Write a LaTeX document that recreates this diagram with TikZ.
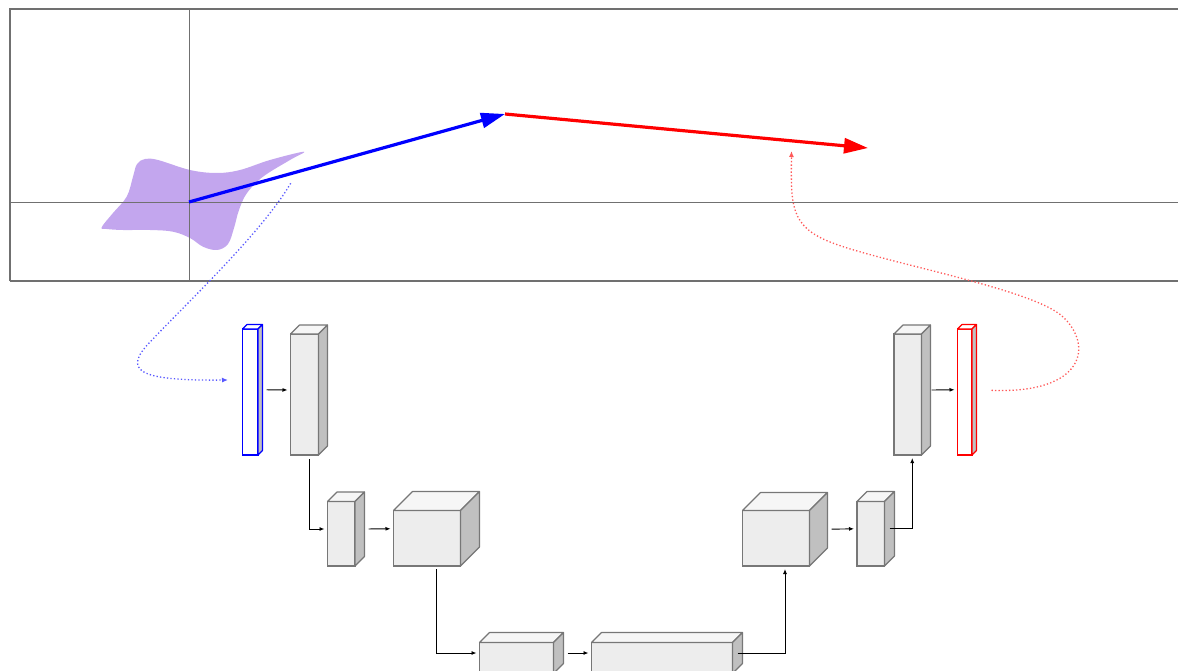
\documentclass[tikz,border=0pt]{standalone}
\usetikzlibrary{arrows.meta,calc}
\definecolor{framec}{HTML}{707070}
\definecolor{blobc}{HTML}{C3A6EE}
\definecolor{edgec}{HTML}{777777}
\definecolor{frontc}{HTML}{EDEDED}
\definecolor{sidec}{HTML}{C0C0C0}
\tikzset{
  conn/.style={line width=0.9pt, draw=black, -{Latex[length=5pt,width=4pt]}, shorten >=3pt},
  bigarrow/.style={line width=3.2pt, -{Triangle[length=24pt,width=15pt]}},
  dotline/.style={line width=1.3pt, dash pattern=on 1.3pt off 2.2pt},
}
% #1 name, #2 x, #3 y (front top-left), #4 w, #5 h, #6 depth, #7 stroke, #8 front fill, #9 top fill
\newcommand{\cuboid}[9]{%
  \node[draw=#7, fill=#8, line width=1.1pt, inner sep=0pt, outer sep=0pt, anchor=north west,
        minimum width=#4pt, minimum height=#5pt] (#1) at (#2,#3) {};
  \filldraw[draw=#7, fill=#9, line width=1.1pt, line join=round] (#1.north west) -- ++(#6,-#6) -- ([shift={(#6,-#6)}]#1.north east) -- (#1.north east) -- cycle;
  \filldraw[draw=#7, fill=sidec, line width=1.1pt, line join=round] (#1.north east) -- ++(#6,-#6) -- ([shift={(#6,-#6)}]#1.south east) -- (#1.south east) -- cycle;
  \coordinate (#1-w) at ([shift={(0,-#6/2)}]#1.west);
  \coordinate (#1-e) at ([shift={(#6,-#6/2)}]#1.east);
  \coordinate (#1-m) at ([shift={(#6/2,-#6/2)}]#1.east);
  \coordinate (#1-s) at ([shift={(#6/2,0)}]#1.south);
}
\begin{document}
\begin{tikzpicture}[x=1pt,y=-1pt]
\useasboundingbox (0,0) rectangle (1178,671);
% blob
\fill[blobc] plot[smooth cycle, tension=0.6] coordinates {
  (101.7,227.3) (113,213) (126.7,196.7) (133,176.7) (137,164) (145,159) (158,160)
  (190,170) (216.7,173) (240,170) (270,160) (304,151.7) (290,160) (263,176.7)
  (247,193) (239,210) (234,228) (228,244) (217,250) (203,246.7) (190,238)
  (173,231.7) (150,230) (123,230) (106.7,229)};
% axes
\draw[framec, line width=1pt] (10,203) -- (1178,203);
\draw[framec, line width=1pt] (189,9) -- (189,281);
\draw[framec, line width=2.2pt] (10,281) -- (10,9) -- (1190,9);
\draw[framec, line width=2.2pt] (10,281) -- (1190,281);
% vectors
\coordinate (o) at (189,202);
\coordinate (p) at (505,114);
\coordinate (q) at (868,148);
\draw[bigarrow, blue] (o) -- (p);
\draw[bigarrow, red] (p) -- (q);
% blocks
\cuboid{b1}{242.5}{329}{15.5}{126}{4.5}{blue}{white}{white}
\cuboid{b2}{290.5}{334}{28}{121}{9}{edgec}{frontc}{frontc!50!white}
\cuboid{b3}{327.5}{501.5}{27.5}{64.5}{9.5}{edgec}{frontc}{frontc!50!white}
\cuboid{b4}{393.5}{510.5}{67}{55.5}{19}{edgec}{frontc}{frontc!50!white}
\cuboid{b5}{479.5}{642.5}{74}{31}{10}{edgec}{frontc}{frontc!50!white}
\cuboid{b6}{591.5}{642.5}{141}{31}{10}{edgec}{frontc}{frontc!50!white}
\cuboid{b7}{742.5}{510.5}{67}{55.5}{18}{edgec}{frontc}{frontc!50!white}
\cuboid{b8}{857}{501.5}{27.5}{64.5}{10}{edgec}{frontc}{frontc!50!white}
\cuboid{b9}{894}{334}{27.5}{121}{9}{edgec}{frontc}{frontc!50!white}
\cuboid{b10}{957.5}{329}{14.5}{126}{4.5}{red}{white}{white}
% connectors
\draw[conn, shorten <=4pt] (b1-e) -- (b2-w);
\draw[conn, shorten <=4pt] (b2-s) |- (b3-w);
\draw[conn, shorten <=4pt] (b3-e) -- (b4-w);
\draw[conn, shorten <=3pt] (b4-s) |- (b5-w);
\draw[conn, shorten <=4pt] (b5-e) -- (b6-w);
\draw[conn] (b6-m) -| (b7-s);
\draw[conn, shorten <=4pt] (b7-e) -- (b8-w);
\draw[conn] (b8-m) -| (b9-s);
\draw[conn, shorten <=1pt] (b9-e) -- (b10-w);
% dotted links
\coordinate (bs) at (290.7,183.3);
\coordinate (be) at (228,380);
\draw[dotline, blue!65, -{Latex[length=6pt,width=5pt]}] (bs) .. controls (262,232) and (190,300) .. (152,340)
  .. controls (122,370) and (135,381) .. (be);
\coordinate (re) at (791.5,151);
\draw[dotline, red!65, -{Latex[length=6pt,width=5pt]}, shorten <=15pt] (b10-e) .. controls (1085,394) and (1094,345) .. (1062,316)
  .. controls (1030,288) and (880,262) .. (830,242)
  .. controls (790,226) and (791,205) .. (re);
\end{tikzpicture}
\end{document}
